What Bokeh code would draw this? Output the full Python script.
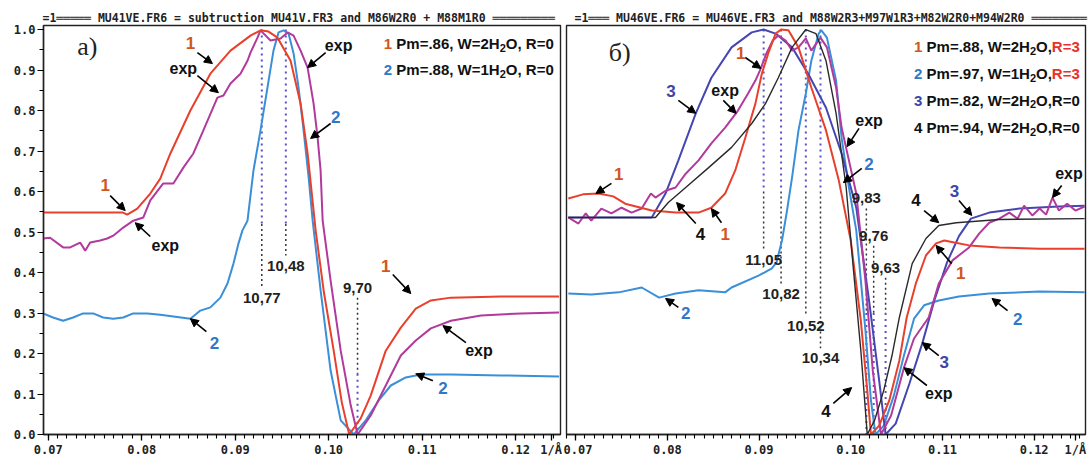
from bokeh.plotting import figure
from bokeh.layouts import row
from bokeh.models import Label, Arrow, NormalHead, FixedTicker, SingleIntervalTicker, PrintfTickFormatter
from bokeh.embed import file_html
from bokeh.resources import INLINE

# ---------------- panel a) data ----------------
a_red_x = [0.06945, 0.07800, 0.07846, 0.07953, 0.08092, 0.08199, 0.08307, 0.08521, 0.08735, 0.08950,
           0.09164, 0.09271, 0.09357, 0.09453, 0.09593, 0.09700, 0.09775, 0.09861, 0.09950, 0.10054,
           0.10140, 0.10220, 0.10343, 0.10450, 0.10611, 0.10772, 0.10932, 0.11093, 0.11308, 0.11844, 0.12465]
a_red_y = [0.548, 0.548, 0.543, 0.558, 0.595, 0.632, 0.694, 0.800, 0.891, 0.948,
           0.985, 0.998, 0.995, 0.980, 0.923, 0.817, 0.694, 0.504, 0.350, 0.207,
           0.080, 0.0, 0.040, 0.096, 0.207, 0.264, 0.311, 0.331, 0.338, 0.341, 0.341]

a_blue_x = [0.06945, 0.07052, 0.07160, 0.07267, 0.07374, 0.07481, 0.07588, 0.07696, 0.07803, 0.07910,
            0.08060, 0.08199, 0.08360, 0.08521, 0.08628, 0.08735, 0.08842, 0.08918, 0.08982, 0.09036,
            0.09078, 0.09132, 0.09196, 0.09271, 0.09346, 0.09410, 0.09464, 0.09518, 0.09571, 0.09625,
            0.09678, 0.09732, 0.09786, 0.09829, 0.09914, 0.10021, 0.10129, 0.10268, 0.10397, 0.10536,
            0.10665, 0.10825, 0.10986, 0.11308, 0.11844, 0.12465]
a_blue_y = [0.299, 0.289, 0.281, 0.289, 0.299, 0.299, 0.289, 0.286, 0.289, 0.299,
            0.299, 0.296, 0.291, 0.286, 0.306, 0.314, 0.338, 0.373, 0.422, 0.472,
            0.504, 0.528, 0.652, 0.751, 0.857, 0.948, 0.993, 0.998, 0.990, 0.941,
            0.857, 0.751, 0.635, 0.528, 0.356, 0.158, 0.035, 0.0, 0.035, 0.084,
            0.121, 0.141, 0.148, 0.148, 0.146, 0.143]

a_exp_x = [0.06945, 0.07020, 0.07160, 0.07235, 0.07342, 0.07396, 0.07449, 0.07556, 0.07631, 0.07696,
           0.07803, 0.07910, 0.08018, 0.08092, 0.08231, 0.08339, 0.08446, 0.08553, 0.08660, 0.08810,
           0.08875, 0.08950, 0.09057, 0.09132, 0.09164, 0.09239, 0.09271, 0.09378, 0.09486, 0.09561,
           0.09625, 0.09700, 0.09775, 0.09839, 0.09882, 0.09914, 0.09936, 0.10021, 0.10129, 0.10236,
           0.10310, 0.10450, 0.10611, 0.10772, 0.10932, 0.11093, 0.11308, 0.11630, 0.12058, 0.12465]
a_exp_y = [0.484, 0.486, 0.462, 0.462, 0.474, 0.454, 0.474, 0.479, 0.484, 0.491,
           0.511, 0.528, 0.536, 0.578, 0.620, 0.620, 0.659, 0.694, 0.751, 0.832,
           0.837, 0.867, 0.891, 0.923, 0.943, 0.980, 0.998, 0.973, 0.978, 0.993,
           0.985, 0.948, 0.906, 0.817, 0.733, 0.652, 0.528, 0.380, 0.207, 0.072,
           0.0, 0.047, 0.121, 0.195, 0.232, 0.262, 0.281, 0.294, 0.299, 0.301]

a_peak_x = [0.09285, 0.09542]
a_peak_lbl = ["10,77", "10,48"]
a_peak_lbl_y = [0.338, 0.417]
a_dip_x = [0.10309]
a_dip_lbl = ["9,70"]
a_dip_lbl_y = [0.363]

# ---------------- panel б) data ----------------
b_red_x = [0.0692, 0.0708, 0.0725, 0.0741, 0.0754, 0.0783, 0.0809, 0.0834, 0.0848, 0.0863,
           0.0874, 0.0885, 0.0896, 0.0903, 0.0910, 0.0918, 0.0924, 0.0932, 0.0943, 0.0957,
           0.0973, 0.0987, 0.1000, 0.1011, 0.1018, 0.1022, 0.1031, 0.1042, 0.1053, 0.1061,
           0.1071, 0.1082, 0.1093, 0.1102, 0.1113, 0.1129, 0.1162, 0.1206, 0.1255]
b_red_y = [0.583, 0.593, 0.595, 0.588, 0.570, 0.553, 0.548, 0.548, 0.560, 0.595,
           0.652, 0.733, 0.817, 0.891, 0.941, 0.990, 1.0, 0.998, 0.956, 0.857,
           0.751, 0.627, 0.479, 0.281, 0.109, 0.0, 0.022, 0.084, 0.183, 0.289,
           0.373, 0.442, 0.472, 0.479, 0.474, 0.467, 0.462, 0.459, 0.459]

b_black_x = [0.0692, 0.0787, 0.0801, 0.0820, 0.0845, 0.0870, 0.0892, 0.0907, 0.0921, 0.0936,
             0.0951, 0.0962, 0.0973, 0.0984, 0.0995, 0.1003, 0.1011, 0.1018, 0.1026, 0.1036,
             0.1045, 0.1053, 0.1067, 0.1082, 0.1096, 0.1115, 0.1162, 0.1255]
b_black_y = [0.536, 0.536, 0.573, 0.610, 0.659, 0.709, 0.768, 0.817, 0.881, 0.956,
             1.0, 0.990, 0.923, 0.793, 0.610, 0.405, 0.207, 0.0, 0.035, 0.109,
             0.195, 0.289, 0.422, 0.484, 0.516, 0.523, 0.531, 0.533]

b_lblue_x = [0.0692, 0.0717, 0.0747, 0.0772, 0.0791, 0.0809, 0.0834, 0.0863, 0.0870, 0.0900,
             0.0914, 0.0919, 0.0925, 0.0930, 0.0936, 0.0943, 0.0951, 0.0957, 0.0965, 0.0968,
             0.0974, 0.0984, 0.0990, 0.0998, 0.1006, 0.1016, 0.1022, 0.1027, 0.1036, 0.1047,
             0.1058, 0.1069, 0.1080, 0.1096, 0.1118, 0.1151, 0.1206, 0.1255]
b_lblue_y = [0.348, 0.346, 0.351, 0.363, 0.338, 0.348, 0.356, 0.351, 0.363, 0.393,
             0.410, 0.425, 0.479, 0.546, 0.635, 0.751, 0.842, 0.923, 0.990, 0.998,
             0.980, 0.874, 0.733, 0.610, 0.504, 0.257, 0.084, 0.0, 0.022, 0.096,
             0.195, 0.286, 0.319, 0.331, 0.341, 0.348, 0.353, 0.351]

b_dblue_x = [0.0692, 0.0783, 0.0798, 0.0812, 0.0831, 0.0848, 0.0870, 0.0892, 0.0905, 0.0918,
             0.0936, 0.0954, 0.0973, 0.0990, 0.1006, 0.1020, 0.1031, 0.1038, 0.1049, 0.1064,
             0.1078, 0.1091, 0.1105, 0.1118, 0.1131, 0.1151, 0.1184, 0.1227, 0.1255]
b_dblue_y = [0.536, 0.536, 0.595, 0.677, 0.793, 0.881, 0.956, 0.993, 1.0, 0.990,
             0.956, 0.889, 0.807, 0.694, 0.560, 0.330, 0.133, 0.0, 0.027, 0.126,
             0.225, 0.330, 0.425, 0.490, 0.533, 0.548, 0.558, 0.563, 0.565]

b_exp_x = [0.0692, 0.0703, 0.0711, 0.0717, 0.0728, 0.0739, 0.0750, 0.0761, 0.0772, 0.0782,
           0.0787, 0.0798, 0.0809, 0.0820, 0.0834, 0.0848, 0.0863, 0.0877, 0.0888, 0.0896,
           0.0901, 0.0908, 0.0915, 0.0921, 0.0929, 0.0936, 0.0943, 0.0951, 0.0957, 0.0967,
           0.0974, 0.0984, 0.0990, 0.0998, 0.1006, 0.1016, 0.1024, 0.1033, 0.1044, 0.1058,
           0.1069, 0.1085, 0.1096, 0.1111, 0.1129, 0.1140, 0.1151, 0.1162, 0.1173, 0.1182,
           0.1189, 0.1198, 0.1206, 0.1213, 0.1220, 0.1227, 0.1236, 0.1245, 0.1255]
b_exp_y = [0.536, 0.521, 0.546, 0.528, 0.558, 0.546, 0.560, 0.548, 0.558, 0.595,
           0.585, 0.602, 0.610, 0.644, 0.677, 0.719, 0.758, 0.800, 0.842, 0.874,
           0.899, 0.941, 0.973, 0.985, 0.973, 0.948, 0.956, 0.978, 0.948, 0.980,
           0.956, 0.857, 0.758, 0.677, 0.595, 0.380, 0.158, 0.0, 0.047, 0.165,
           0.237, 0.289, 0.373, 0.430, 0.462, 0.496, 0.523, 0.533, 0.548, 0.533,
           0.565, 0.541, 0.558, 0.543, 0.585, 0.553, 0.570, 0.553, 0.563]

b_peak_x = [0.0905, 0.0924, 0.0951, 0.0967]
b_peak_lbl = ["11,05", "10,82", "10,52", "10,34"]
b_peak_lbl_y = [0.430, 0.348, 0.269, 0.188]
b_dip_x = [0.1017, 0.1025, 0.1038]
b_dip_lbl = ["9,83", "9,76", "9,63"]
b_dip_lbl_y = [0.583, 0.491, 0.412]

x_ticks = [0.07, 0.08, 0.09, 0.10, 0.11, 0.12]
x_unit_label = "1/\u00c5"
a_unit_pos = 0.1238
b_unit_pos = 0.1245
y_tick_step = 0.1

title_a = "MU41VE.FR6 = subtruction MU41V.FR3 and M86W2R0 + M88M1R0"
title_b = "MU46VE.FR6 = MU46VE.FR3 and M88W2R3+M97W1R3+M82W2R0+M94W2R0"

# ---------------- styles ----------------
C_RED = "#e8402c"
C_EXP = "#b23a9c"
C_LB = "#3a8fd8"
C_DB = "#4646b2"
C_BK = "#2a2a2a"
N1 = "#d0561c"
N2 = "#2f78c8"
N3 = "#3d46a8"
NK = "#111111"
RR = "#e8302a"
C_DOT = "#5a52c8"
SANS = "Liberation Sans"
MONO = "DejaVu Sans Mono"

W_TAB = {' ': 278, ',': 278, '.': 278, '=': 584, 'P': 667, 'm': 889, 'W': 944, 'H': 722, 'O': 778, 'R': 722}


def tw(s, size):
    return sum(W_TAB.get(c, 556) for c in s) * size / 1000.0


def make_fig(width, xr, mbl, mbr, unit_pos, title, title_offset):
    p = figure(width=width, height=461, x_range=xr, y_range=(0, 1.01),
               output_backend="svg", toolbar_location=None,
               min_border_left=mbl, min_border_right=mbr, min_border_top=25, min_border_bottom=27)
    p.grid.visible = False
    p.outline_line_color = "#222222"
    p.outline_line_width = 1.4
    p.title.text = title
    p.title.align = "left"
    p.title.offset = title_offset
    p.title.standoff = 1
    p.title.text_font = MONO
    p.title.text_font_size = "11.5px"
    p.title.text_font_style = "bold"
    p.title.text_color = "#222222"
    minor = [round(0.069 + 0.001 * i, 4) for i in range(58)]
    for ax in p.xaxis:
        ax.ticker = FixedTicker(ticks=x_ticks + [unit_pos], minor_ticks=minor)
        ax.formatter = PrintfTickFormatter(format="%.2f")
        ax.major_label_overrides = {unit_pos: x_unit_label}
        ax.major_label_text_font = MONO
        ax.major_label_text_font_style = "bold"
        ax.major_label_text_font_size = "12px"
        ax.major_label_text_color = "#222222"
        ax.major_tick_out = 6
        ax.major_tick_in = 0
        ax.minor_tick_out = 4
        ax.minor_tick_in = 0
        ax.major_label_standoff = 2
        ax.axis_line_color = "#222222"
        ax.axis_line_width = 1.4
        ax.major_tick_line_width = 1.3
        ax.minor_tick_line_width = 1.1
    return p


def txt(p, x, y, s, color, size, font=SANS, style="bold", align="center", baseline="middle", xo=0, yo=0):
    p.add_layout(Label(x=x, y=y, text=s, text_color=color, text_font=font,
                       text_font_size=f"{size}px", text_font_style=style,
                       text_align=align, text_baseline=baseline, x_offset=xo, y_offset=yo))


def arrow(p, x0, y0, x1, y1):
    p.add_layout(Arrow(end=NormalHead(size=8, fill_color="black", line_color="black", line_width=1),
                       x_start=x0, y_start=y0, x_end=x1, y_end=y1,
                       line_color="black", line_width=1.6))


def legend_line(p, x, y, parts, size=15):
    off = 0.0
    for text, color, sub in parts:
        fs = 11 if sub else size
        p.add_layout(Label(x=x, y=y, x_offset=off, y_offset=-4 if sub else 0, text=text,
                           text_color=color, text_font=SANS, text_font_size=f"{fs}px",
                           text_font_style="bold", text_align="left", text_baseline="middle"))
        off += tw(text, fs)


def dotted_lines(p, peak_x, peak_lbl, peak_y, dip_x, dip_lbl, dip_y, split_pk, split_dip):
    for x, s, ly in zip(peak_x, peak_lbl, peak_y):
        p.segment([x], [1.0], [x], [split_pk], line_color=C_DOT, line_width=2, line_dash="2 4")
        p.segment([x], [split_pk], [x], [ly + 0.025], line_color="#333333", line_width=1.5, line_dash="2 3")
        txt(p, x, ly, s, "#222222", 15)
    for x, s, ly in zip(dip_x, dip_lbl, dip_y):
        p.segment([x], [ly - 0.025], [x], [split_dip], line_color="#333333", line_width=1.5, line_dash="2 3")
        p.segment([x], [split_dip], [x], [0.0], line_color=C_DOT, line_width=2, line_dash="2 4")
        txt(p, x, ly, s, "#222222", 15)


# ================= panel a =================
pa = make_fig(563, (0.0695, 0.1248), 43, 3, a_unit_pos,
              "=1" + "\u2550" * 5 + " " + title_a + " " + "\u2550" * 9, -1)
ya = pa.yaxis[0]
ya.ticker = SingleIntervalTicker(interval=y_tick_step, num_minor_ticks=2)
ya.formatter = PrintfTickFormatter(format="%.1f")
ya.major_label_text_font = MONO
ya.major_label_text_font_style = "bold"
ya.major_label_text_font_size = "12px"
ya.major_label_text_color = "#222222"
ya.major_tick_out = 6
ya.major_tick_in = 0
ya.minor_tick_out = 4
ya.minor_tick_in = 0
ya.major_label_standoff = 2
ya.axis_line_color = "#222222"
ya.axis_line_width = 1.4

dotted_lines(pa, a_peak_x, a_peak_lbl, a_peak_lbl_y, a_dip_x, a_dip_lbl, a_dip_lbl_y, 0.52, 0.15)

pa.line(a_blue_x, a_blue_y, line_color=C_LB, line_width=2)
pa.line(a_exp_x, a_exp_y, line_color=C_EXP, line_width=2)
pa.line(a_red_x, a_red_y, line_color=C_RED, line_width=2)

a_notes = [
    ("1", N1, 17, 0.07610, 0.615, 0.07663, 0.590, 0.07824, 0.553),
    ("exp", NK, 16, 0.08253, 0.467, 0.08092, 0.489, 0.07931, 0.523),
    ("1", N1, 17, 0.08521, 0.968, 0.08596, 0.943, 0.08757, 0.916),
    ("exp", NK, 16, 0.08446, 0.904, 0.08596, 0.886, 0.08821, 0.844),
    ("exp", NK, 16, 0.10107, 0.960, 0.09968, 0.943, 0.09775, 0.906),
    ("2", N2, 17, 0.10075, 0.785, 0.10021, 0.768, 0.09807, 0.731),
    ("2", N2, 17, 0.08778, 0.225, 0.08692, 0.254, 0.08521, 0.286),
    ("1", N1, 17, 0.10611, 0.417, 0.10686, 0.395, 0.10879, 0.348),
    ("exp", NK, 16, 0.11608, 0.207, 0.11468, 0.227, 0.11222, 0.269),
    ("2", N2, 17, 0.11222, 0.116, 0.11115, 0.133, 0.10932, 0.150),
]
for s, c, fs, lx, ly, x0, y0, x1, y1 in a_notes:
    arrow(pa, x0, y0, x1, y1)
    txt(pa, lx, ly, s, c, fs)

legend_line(pa, 0.1059, 0.965, [("1 ", N1, False), ("Pm=.86, W=2H", NK, False), ("2", NK, True), ("O, R=0", NK, False)])
legend_line(pa, 0.1059, 0.901, [("2 ", N2, False), ("Pm=.88, W=1H", NK, False), ("2", NK, True), ("O, R=0", NK, False)])

txt(pa, 0.0731, 0.958, "a)", "#222222", 26, font="Liberation Serif", style="normal", align="left")

# ================= panel б =================
pb = make_fig(528, (0.0690, 0.1256), 3, 6, b_unit_pos,
              "=1" + "\u2550" * 3 + " " + title_b + " " + "\u2550" * 8, 8)
pb.yaxis.visible = False

dotted_lines(pb, b_peak_x, b_peak_lbl, b_peak_lbl_y, b_dip_x, b_dip_lbl, b_dip_lbl_y, 0.60, 0.30)

pb.line(b_lblue_x, b_lblue_y, line_color=C_LB, line_width=2)
pb.line(b_dblue_x, b_dblue_y, line_color=C_DB, line_width=2)
pb.line(b_exp_x, b_exp_y, line_color=C_EXP, line_width=2)
pb.line(b_red_x, b_red_y, line_color=C_RED, line_width=2)
pb.line(b_black_x, b_black_y, line_color=C_BK, line_width=1.4)

b_notes = [
    ("1", N1, 17, 0.0747, 0.644, 0.0739, 0.620, 0.0722, 0.595),
    ("3", N3, 17, 0.0804, 0.849, 0.0812, 0.825, 0.0831, 0.793),
    ("exp", NK, 16, 0.0863, 0.849, 0.0861, 0.825, 0.0875, 0.793),
    ("1", N1, 17, 0.0880, 0.941, 0.0885, 0.931, 0.0902, 0.904),
    ("4", NK, 17, 0.0836, 0.496, 0.0831, 0.521, 0.0810, 0.573),
    ("1", N1, 17, 0.0863, 0.496, 0.0859, 0.523, 0.0848, 0.558),
    ("2", N2, 17, 0.0820, 0.299, 0.0812, 0.314, 0.0798, 0.336),
    ("exp", NK, 16, 0.1020, 0.775, 0.1009, 0.756, 0.0996, 0.711),
    ("2", N2, 17, 0.1020, 0.669, 0.1012, 0.657, 0.0992, 0.622),
    ("4", NK, 17, 0.1071, 0.578, 0.1080, 0.553, 0.1096, 0.523),
    ("3", N3, 17, 0.1113, 0.602, 0.1118, 0.578, 0.1132, 0.541),
    ("exp", NK, 16, 0.1238, 0.644, 0.1230, 0.615, 0.1220, 0.585),
    ("1", N1, 17, 0.1120, 0.398, 0.1110, 0.422, 0.1093, 0.467),
    ("3", N3, 17, 0.1102, 0.178, 0.1096, 0.195, 0.1078, 0.227),
    ("exp", NK, 16, 0.1096, 0.101, 0.1083, 0.121, 0.1058, 0.165),
    ("4", NK, 17, 0.0973, 0.059, 0.0981, 0.077, 0.1001, 0.116),
    ("2", N2, 17, 0.1182, 0.286, 0.1171, 0.306, 0.1154, 0.336),
]
for s, c, fs, lx, ly, x0, y0, x1, y1 in b_notes:
    arrow(pb, x0, y0, x1, y1)
    txt(pb, lx, ly, s, c, fs)

legend_line(pb, 0.1069, 0.958, [("1 ", N1, False), ("Pm=.88, W=2H", NK, False), ("2", NK, True), ("O,", NK, False), ("R=3", RR, False)])
legend_line(pb, 0.1069, 0.891, [("2 ", N2, False), ("Pm=.97, W=1H", NK, False), ("2", NK, True), ("O,", NK, False), ("R=3", RR, False)])
legend_line(pb, 0.1069, 0.825, [("3 ", N3, False), ("Pm=.82, W=2H", NK, False), ("2", NK, True), ("O,R=0", NK, False)])
legend_line(pb, 0.1069, 0.758, [("4 ", NK, False), ("Pm=.94, W=2H", NK, False), ("2", NK, True), ("O,R=0", NK, False)])

txt(pb, 0.0736, 0.943, "\u0431)", "#222222", 26, font="Liberation Serif", style="normal", align="left")

layout = row(pa, pb)
open("out.html", "w").write(file_html(layout, INLINE))
